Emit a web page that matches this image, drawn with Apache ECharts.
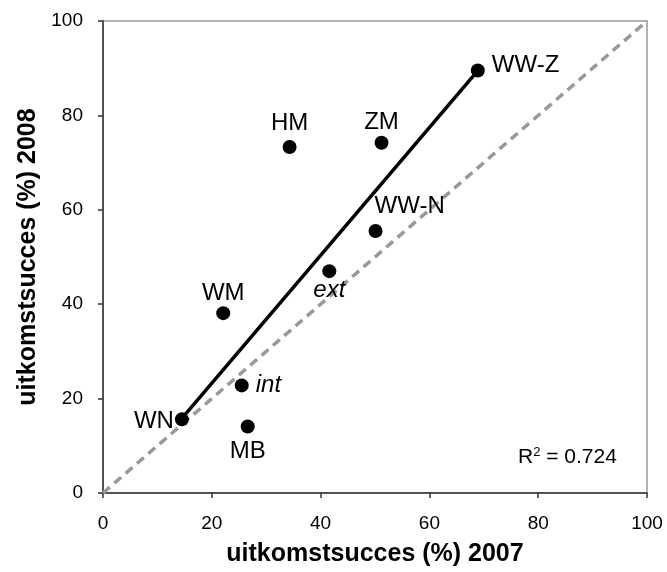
<!DOCTYPE html>
<html>
<head>
<meta charset="utf-8">
<script src="https://cdn.jsdelivr.net/npm/echarts@6/dist/echarts.min.js"></script>
<style>
  html, body { margin: 0; padding: 0; background: #fff; }
  #chart { width: 667px; height: 572px; }
</style>
</head>
<body>
<div id="chart"></div>
<script>
// afdelingen en uitkomstsucces (%)
const names = ['WW-Z', 'HM', 'ZM', 'WW-N', 'ext', 'WM', 'int', 'WN', 'MB']
const succes2007 = [68.9, 34.3, 51.2, 50.1, 41.6, 22.1, 25.5, 14.5, 26.6]
const succes2008 = [89.5, 73.3, 74.2, 55.5, 47.0, 38.1, 22.8, 15.6, 14.1]
const trendX = [14.5, 68.9]
const trendY = [15.8, 89.5]
const diagX = [0, 100]
const diagY = [0, 100]
const axisTicks = [0, 20, 40, 60, 80, 100]
const r2 = '0.724'

const font = 'Liberation Sans, Arial, sans-serif'
const italic = ['ext', 'int']
const labelPlace = {
  'WW-Z': { position: 'right', distance: 7, offset: [0, -5] },
  'HM': { position: 'top', distance: 5 },
  'ZM': { position: 'top', distance: 1 },
  'WW-N': { position: [6, -30] },
  'ext': { position: 'bottom', distance: 0 },
  'WM': { position: 'top', distance: 1 },
  'int': { position: 'right', distance: 7 },
  'WN': { position: 'left', distance: 1, offset: [0, 2] },
  'MB': { position: 'bottom', distance: 6 }
}

const points = names.map((n, i) => ({
  name: n,
  value: [succes2007[i], succes2008[i]],
  label: Object.assign({
    show: true,
    formatter: n,
    color: '#000',
    fontFamily: font,
    fontSize: 24,
    fontStyle: italic.includes(n) ? 'italic' : 'normal'
  }, labelPlace[n])
}))

const chart = echarts.init(document.getElementById('chart'))
const axisCommon = {
  type: 'value',
  min: 0,
  max: 100,
  interval: 20,
  nameLocation: 'middle',
  nameTextStyle: { fontFamily: font, fontSize: 25, fontWeight: 'bold', color: '#000' },
  axisLine: { show: true, onZero: false, lineStyle: { color: '#333', width: 1.5 } },
  axisTick: { show: true, inside: false, length: 5, lineStyle: { color: '#333', width: 1.5 } },
  axisLabel: {
    fontFamily: font, fontSize: 19, color: '#000',
    formatter: v => axisTicks.includes(v) ? String(v) : ''
  },
  splitLine: { show: false }
}

chart.setOption({
  backgroundColor: '#fff',
  animation: false,
  grid: {
    left: 103, top: 21, right: 20, bottom: 79,
    show: true,
    borderColor: '#999',
    borderWidth: 1.5
  },
  xAxis: Object.assign({}, axisCommon, {
    name: 'uitkomstsucces (%) 2007',
    nameGap: 49,
    axisLabel: Object.assign({}, axisCommon.axisLabel, { margin: 21 })
  }),
  yAxis: Object.assign({}, axisCommon, {
    name: 'uitkomstsucces (%) 2008',
    nameGap: 60,
    axisLabel: Object.assign({}, axisCommon.axisLabel, { margin: 20 })
  }),
  graphic: [{
    type: 'text',
    left: 518,
    top: 446,
    style: {
      text: '{a|R}{s|2}{a| = ' + r2 + '}',
      rich: {
        a: { fontFamily: font, fontSize: 21, fill: '#000' },
        s: { fontFamily: font, fontSize: 13, fill: '#000', verticalAlign: 'top', padding: [0, 0, 9, 0] }
      }
    }
  }],
  series: [
    {
      type: 'line',
      data: diagX.map((x, i) => [x, diagY[i]]),
      symbol: 'none',
      lineStyle: { color: '#999', width: 3.5, type: [9, 6] },
      z: 1
    },
    {
      type: 'line',
      data: trendX.map((x, i) => [x, trendY[i]]),
      symbol: 'none',
      lineStyle: { color: '#000', width: 3.5 },
      z: 2
    },
    {
      type: 'scatter',
      data: points,
      symbol: 'circle',
      symbolSize: 14,
      itemStyle: { color: '#000', opacity: 1 },
      z: 3
    }
  ]
})
</script>
</body>
</html>
